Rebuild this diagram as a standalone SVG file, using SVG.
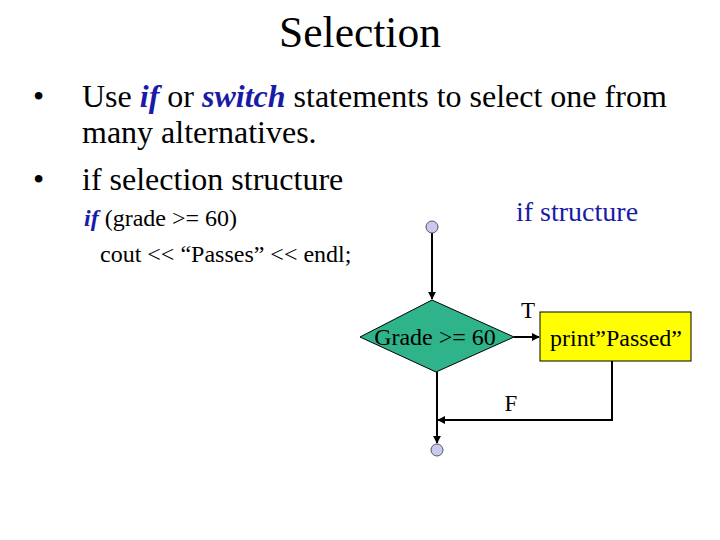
<svg xmlns="http://www.w3.org/2000/svg" width="720" height="540" viewBox="0 0 720 540">
<style>
text{font-family:'Liberation Serif',serif;fill:#000}
.kw{fill:#1a1aa8;font-weight:bold;font-style:italic}
.ln{stroke:#000;stroke-width:2;fill:none}
.dot{fill:#c8c8f0;stroke:#555;stroke-width:1}
</style>
<defs>
<marker id="ah" viewBox="0 0 10 10" refX="9" refY="5" markerWidth="4" markerHeight="4" orient="auto"><path d="M0,0L10,5L0,10z" fill="#000"/></marker>
</defs>
<rect width="720" height="540" fill="#fff"/>
<text x="360" y="47" font-size="43.5" text-anchor="middle">Selection</text>
<text x="33" y="107" font-size="32">•</text>
<text x="82" y="107" font-size="32">Use <tspan class="kw">if</tspan> or <tspan class="kw">switch</tspan> statements to select one from</text>
<text x="82" y="143" font-size="32">many alternatives.</text>
<text x="33" y="190" font-size="32">•</text>
<text x="82" y="190" font-size="32">if selection structure</text>
<text x="84" y="226" font-size="24"><tspan class="kw">if</tspan> (grade &gt;= 60)</text>
<text x="100" y="262" font-size="24">cout &lt;&lt; “Passes” &lt;&lt; endl;</text>
<text x="516" y="221" font-size="28" style="fill:#1a1aa8">if structure</text>
<g id="connectors">
<line class="ln" x1="432" y1="233" x2="432" y2="299" marker-end="url(#ah)"/>
<line class="ln" x1="514" y1="337" x2="539" y2="337" marker-end="url(#ah)"/>
<polyline class="ln" points="612,361 612,420 438,420" marker-end="url(#ah)"/>
<line class="ln" x1="437" y1="372" x2="437" y2="443" marker-end="url(#ah)"/>
<text x="528" y="318" font-size="23" text-anchor="middle">T</text>
<text x="511" y="411" font-size="23" text-anchor="middle">F</text>
</g>
<g id="start"><circle class="dot" cx="432" cy="227" r="6"/></g>
<g id="decision">
<polygon points="432,300 514,337 436,372 360,337" fill="#2fb38a" stroke="#000" stroke-width="1"/>
<text x="435" y="345" font-size="24" text-anchor="middle">Grade &gt;= 60</text>
</g>
<g id="print">
<rect x="540" y="312" width="151" height="49" fill="#ffff00" stroke="#000" stroke-width="1"/>
<text x="616" y="346" font-size="24" text-anchor="middle">print”Passed”</text>
</g>
<g id="end"><circle class="dot" cx="437" cy="450" r="6"/></g>
</svg>
